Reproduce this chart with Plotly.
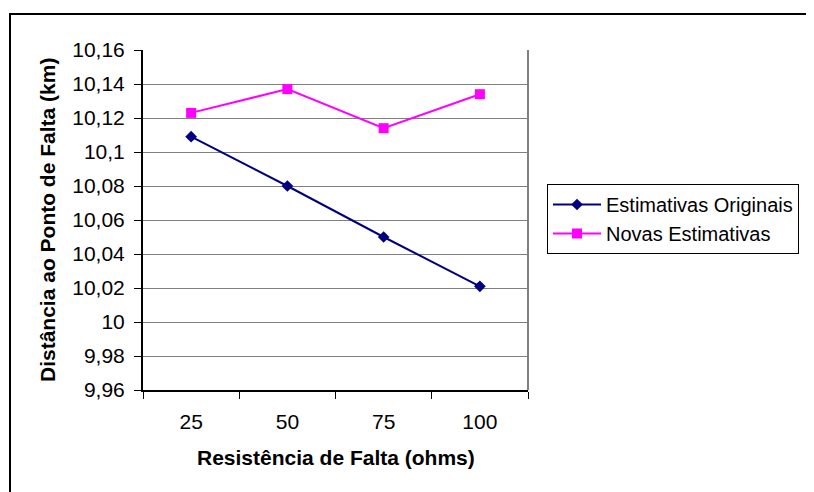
import plotly.graph_objects as go

categories = ["25", "50", "75", "100"]
originais = [10.109, 10.080, 10.050, 10.021]
novas = [10.123, 10.137, 10.114, 10.134]
y_ticks = [9.96, 9.98, 10.00, 10.02, 10.04, 10.06, 10.08, 10.10, 10.12, 10.14, 10.16]
y_ticktext = ["9,96", "9,98", "10", "10,02", "10,04", "10,06", "10,08", "10,1", "10,12", "10,14", "10,16"]

FONT = "Liberation Sans, Arial, sans-serif"

fig = go.Figure()
fig.add_trace(go.Scatter(
    x=categories, y=originais, name="Estimativas Originais",
    mode="lines+markers",
    line=dict(color="#000080", width=2),
    marker=dict(symbol="diamond", size=9, color="#000080"),
))
fig.add_trace(go.Scatter(
    x=categories, y=novas, name="Novas Estimativas",
    mode="lines+markers",
    line=dict(color="#FF00FF", width=2),
    marker=dict(symbol="square", size=10, color="#FF00FF"),
))

# page offset of the figure div (browser default body margin)
OFF = 8
W, H = 814 - OFF, 492 - OFF
L, R, T, B = 143 - OFF, 286, 50 - OFF, 102
pw, ph = W - L - R, H - T - B

def px(x):
    return (x - OFF - L) / pw

def py(y):
    return (H - B - (y - OFF)) / ph

fig.update_layout(
    width=W, height=H,
    margin=dict(l=L, r=R, t=T, b=B),
    paper_bgcolor="white", plot_bgcolor="white",
    font=dict(family=FONT, size=21, color="black"),
    showlegend=True,
    legend=dict(
        x=px(547), y=py(184), xanchor="left", yanchor="top",
        bordercolor="black", borderwidth=1, bgcolor="white",
        font=dict(family=FONT, size=20, color="black"),
        tracegroupgap=0, itemwidth=48,
    ),
    xaxis=dict(
        type="category", range=[-0.5, 3.5],
        showline=True, linecolor="black", linewidth=2,
        ticks="outside", ticklen=7, tickcolor="black", tickwidth=1,
        tickson="boundaries", showgrid=False, zeroline=False,
        tickfont=dict(size=21), ticklabelstandoff=12,
    ),
    yaxis=dict(
        range=[9.96, 10.16], tickvals=y_ticks, ticktext=y_ticktext,
        showline=True, linecolor="black", linewidth=2,
        ticks="outside", ticklen=7, tickcolor="black", tickwidth=1,
        showgrid=True, gridcolor="#7f7f7f", gridwidth=1, zeroline=False,
        tickfont=dict(size=21), ticklabelstandoff=5,
    ),
    shapes=[
        dict(type="line", xref="paper", yref="paper", x0=1, x1=1, y0=0, y1=1,
             line=dict(color="#7f7f7f", width=2)),
        dict(type="rect", xref="paper", yref="paper",
             x0=px(10), x1=px(830), y0=py(520), y1=py(14),
             line=dict(color="black", width=2)),
    ],
    annotations=[
        dict(text="<b>Resistência de Falta (ohms)</b>", xref="paper", yref="paper",
             x=0.5, y=py(457), xanchor="center", yanchor="middle",
             showarrow=False, font=dict(size=21)),
        dict(text="<b>Distância ao Ponto de Falta (km)</b>", xref="paper", yref="paper",
             x=px(47), y=0.5, xanchor="center", yanchor="middle", textangle=-90,
             showarrow=False, font=dict(size=21)),
    ],
)

fig.write_html("out.html")
